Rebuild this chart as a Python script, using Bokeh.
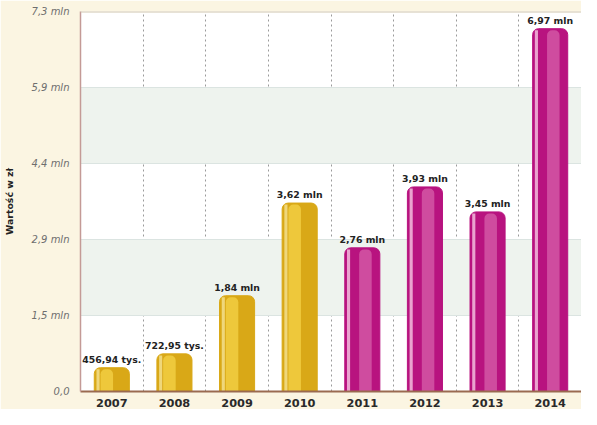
from bokeh.plotting import figure
from bokeh.models import Range1d, FixedTicker, ColumnDataSource, BoxAnnotation, Span, LabelSet
from bokeh.core.properties import value
from bokeh.embed import file_html
from bokeh.resources import INLINE

# ---- data ----
years = ["2007", "2008", "2009", "2010", "2011", "2012", "2013", "2014"]
values_mln = [0.45694, 0.72295, 1.84, 3.62, 2.76, 3.93, 3.45, 6.97]
value_labels = ["456,94 tys.", "722,95 tys.", "1,84 mln", "3,62 mln",
                "2,76 mln", "3,93 mln", "3,45 mln", "6,97 mln"]
series = ["gold", "gold", "gold", "gold", "magenta", "magenta", "magenta", "magenta"]
y_ticks = [0.0, 1.46, 2.92, 4.38, 5.84, 7.3]
y_tick_labels = ["0,0", "1,5 mln", "2,9 mln", "4,4 mln", "5,9 mln", "7,3 mln"]

base_col = {"gold": "#d9a817", "magenta": "#b8137f"}
hi_col = {"gold": "#f6d54c", "magenta": "#d965ad"}
edge_col = {"gold": "#f1dc86", "magenta": "#f0b4d8"}

xs = [i + 0.5 for i in range(len(years))]
src = ColumnDataSource(dict(
    x=xs,
    x_hi=[x - 0.08 if s == "gold" else x + 0.05 for x, s in zip(xs, series)],
    x_edge=[x - 0.22 for x in xs],
    top=values_mln,
    top_in=[v - 0.03 for v in values_mln],
    label=value_labels,
    base=[base_col[s] for s in series],
    hi=[hi_col[s] for s in series],
    edge=[edge_col[s] for s in series],
))

p = figure(width=581, height=409, output_backend="svg", toolbar_location=None,
           x_range=Range1d(0, len(years)), y_range=Range1d(y_ticks[0], y_ticks[-1]),
           min_border_left=69, min_border_right=0, min_border_top=11, min_border_bottom=10)

p.background_fill_color = "white"
p.border_fill_color = "#fbf5e2"
p.outline_line_color = None

# alternating horizontal bands
for i in range(1, len(y_ticks) - 1, 2):
    p.add_layout(BoxAnnotation(bottom=y_ticks[i], top=y_ticks[i + 1],
                               fill_color="#eef3ee", fill_alpha=1.0, line_color=None, level="underlay"))

# grids
p.xgrid.ticker = FixedTicker(ticks=list(range(1, len(years))))
p.xgrid.grid_line_color = "#9a9a9a"
p.xgrid.grid_line_dash = "2 3"
p.xgrid.grid_line_width = 1
p.ygrid.ticker = FixedTicker(ticks=y_ticks)
p.ygrid.grid_line_color = "#c9d4d4"
p.ygrid.grid_line_width = 1

# top strip line
p.add_layout(Span(location=y_ticks[-1], dimension="width", line_color="#cfc6ad", line_width=2))

# bars
p.vbar(x="x", top="top", bottom=0, width=0.56, source=src, fill_color="base",
       line_color="base", line_width=1, border_radius=(6, 6, 0, 0))
p.vbar(x="x_hi", top="top_in", bottom=0, width=0.2, source=src, fill_color="hi",
       line_color=None, fill_alpha=0.7, border_radius=(5, 5, 0, 0))
p.vbar(x="x_edge", top="top_in", bottom=0, width=0.05, source=src, fill_color="edge",
       line_color=None, fill_alpha=0.9)

labels = LabelSet(x="x", y="top", text="label", source=src, text_align="center",
                  text_baseline="bottom", y_offset=3, text_font=value("DejaVu Sans"),
                  text_font_style="bold", text_font_size="7pt", text_color="#222222")
p.add_layout(labels)

# axes
p.xaxis.ticker = FixedTicker(ticks=xs)
p.xaxis.major_label_overrides = {x: y for x, y in zip(xs, years)}
p.xaxis.major_label_text_font = "DejaVu Sans"
p.xaxis.major_label_text_font_style = "bold"
p.xaxis.major_label_text_font_size = "8.5pt"
p.xaxis.major_label_text_color = "#2a2a2a"
p.xaxis.major_tick_line_color = None
p.xaxis.minor_tick_line_color = None
p.xaxis.axis_line_color = "#9a6a50"
p.xaxis.axis_line_width = 2
p.xaxis.major_label_standoff = 1

p.yaxis.ticker = FixedTicker(ticks=y_ticks)
p.yaxis.major_label_overrides = {t: l for t, l in zip(y_ticks, y_tick_labels)}
p.yaxis.major_label_text_font = "DejaVu Sans"
p.yaxis.major_label_text_font_style = "italic"
p.yaxis.major_label_text_font_size = "7.5pt"
p.yaxis.major_label_text_color = "#6e6e6e"
p.yaxis.major_tick_line_color = None
p.yaxis.minor_tick_line_color = None
p.yaxis.axis_line_color = "#c49a96"
p.yaxis.axis_line_width = 1.5
p.yaxis.major_label_standoff = 5
p.yaxis.axis_label = "Wartość w zł"
p.yaxis.axis_label_text_font = "DejaVu Sans"
p.yaxis.axis_label_text_font_style = "bold"
p.yaxis.axis_label_text_font_size = "7pt"
p.yaxis.axis_label_text_color = "#222222"
p.yaxis.axis_label_standoff = 14

open("out.html", "w").write(file_html(p, INLINE))
